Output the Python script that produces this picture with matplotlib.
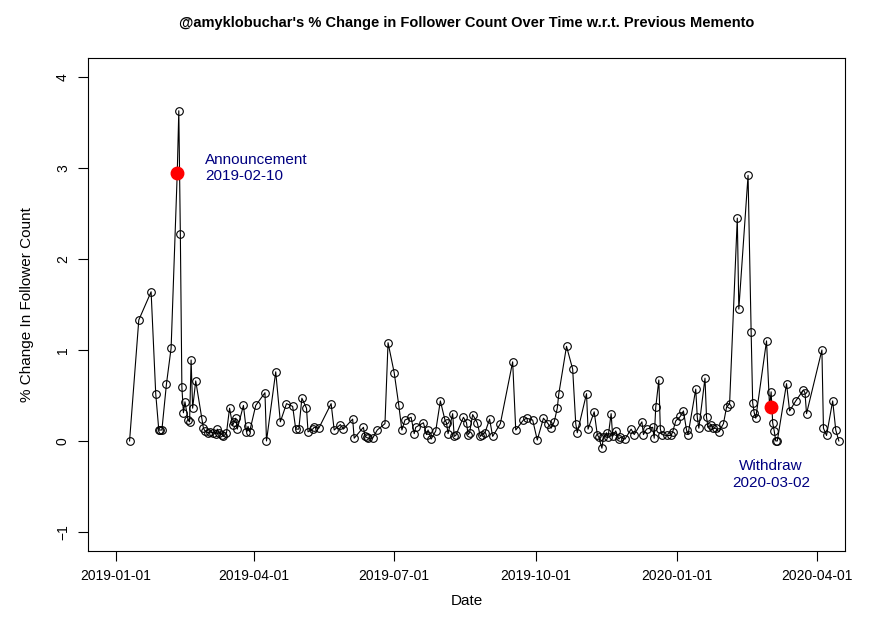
import matplotlib
matplotlib.use('Agg')
import matplotlib.pyplot as plt
import matplotlib.dates as mdates
import numpy as np
from datetime import date, timedelta

START = date(2019, 1, 1)

# days since 2019-01-01
days = [9, 15, 23, 26, 28, 29, 30, 33, 36, 40, 41, 42, 43, 44, 45, 47, 48, 49, 50, 52,
        56, 57, 58, 60, 61, 63, 65, 66, 67, 69, 70, 72, 74, 76, 77, 78, 79, 83, 85, 86,
        87, 91, 97, 98, 104, 107, 111, 115, 117, 119, 121, 124, 125, 128, 129, 132, 140,
        142, 146, 148, 154, 155, 161, 162, 163, 164, 167, 170, 175, 177, 181, 184, 186,
        188, 192, 194, 195, 200, 202, 203, 205, 208, 211, 214, 215, 216, 219, 220, 221,
        226, 228, 229, 230, 232, 235, 237, 238, 240, 243, 245, 250, 258, 260, 265, 267,
        271, 274, 278, 281, 283, 285, 287, 288, 293, 297, 299, 300, 306, 307, 311, 313,
        314, 316, 317, 319, 320, 322, 323, 325, 327, 328, 331, 335, 337, 342, 343, 345,
        349, 350, 351, 353, 354, 355, 358, 361, 362, 364, 367, 369, 371, 372, 377, 378,
        379, 383, 384, 385, 387, 388, 390, 392, 395, 397, 399, 404, 405, 411, 413, 414,
        415, 416, 423, 425, 426, 427, 428, 429, 430, 436, 438, 442, 447, 448, 449, 459,
        460, 462, 466, 468, 470]
pct = [0.00, 1.33, 1.64, 0.52, 0.12, 0.12, 0.12, 0.63, 1.02, 2.95, 3.63, 2.28, 0.59, 0.31,
       0.43, 0.23, 0.21, 0.89, 0.36, 0.66, 0.24, 0.14, 0.11, 0.09, 0.10, 0.09, 0.08, 0.13,
       0.09, 0.07, 0.05, 0.09, 0.36, 0.17, 0.21, 0.25, 0.13, 0.39, 0.10, 0.16, 0.10, 0.39,
       0.53, 0.00, 0.76, 0.21, 0.41, 0.38, 0.13, 0.13, 0.47, 0.36, 0.10, 0.13, 0.15, 0.14,
       0.41, 0.12, 0.18, 0.13, 0.24, 0.03, 0.15, 0.05, 0.04, 0.03, 0.03, 0.12, 0.19, 1.08,
       0.75, 0.39, 0.12, 0.23, 0.26, 0.08, 0.15, 0.20, 0.07, 0.12, 0.02, 0.11, 0.44, 0.23,
       0.20, 0.08, 0.30, 0.05, 0.06, 0.26, 0.20, 0.07, 0.09, 0.29, 0.20, 0.05, 0.07, 0.09,
       0.24, 0.05, 0.19, 0.87, 0.12, 0.23, 0.25, 0.23, 0.01, 0.25, 0.19, 0.14, 0.21, 0.36,
       0.52, 1.04, 0.79, 0.19, 0.09, 0.52, 0.13, 0.32, 0.07, 0.04, -0.08, 0.04, 0.09, 0.04,
       0.30, 0.05, 0.11, 0.02, 0.04, 0.02, 0.13, 0.07, 0.21, 0.07, 0.13, 0.15, 0.03, 0.37,
       0.67, 0.13, 0.07, 0.06, 0.06, 0.10, 0.22, 0.27, 0.33, 0.12, 0.07, 0.57, 0.26, 0.14,
       0.69, 0.26, 0.15, 0.18, 0.14, 0.14, 0.10, 0.19, 0.37, 0.41, 2.45, 1.45, 2.92, 1.20,
       0.42, 0.31, 0.25, 1.10, 0.37, 0.54, 0.20, 0.11, 0.00, 0.00, 0.63, 0.33, 0.44, 0.56,
       0.53, 0.30, 1.00, 0.14, 0.06, 0.44, 0.12, 0.00]

events = ['2019-02-10', '2020-03-02']
event_pct = [2.95, 0.37]
event_names = ['Announcement', 'Withdraw']

x = [START + timedelta(days=d) for d in days]
ev_x = [date.fromisoformat(e) for e in events]

plt.rcParams.update({'font.family': 'Liberation Sans', 'font.size': 10})
fig = plt.figure(figsize=(8.75, 6.25), dpi=100)
ax = fig.add_axes([0.1006, 0.1184, 0.8651, 0.7888])

ax.plot(x, pct, color='black', lw=0.8, marker='o', ms=5.5, mfc='none', mec='black', mew=0.8)
ax.plot(ev_x, event_pct, 'o', color='red', ms=9, zorder=5)

ax.text(mdates.date2num(date(2019, 2, 28)), 3.0, f'{event_names[0]}\n{events[0]}',
        color='#000080', fontsize=11, va='center', ha='left', multialignment='left',
        linespacing=1.25)
ax.text(mdates.date2num(ev_x[1]), -0.37, f'{event_names[1]}\n{events[1]}',
        color='#000080', fontsize=11, va='center', ha='center', linespacing=1.25)

ax.set_xlim(START + timedelta(days=-18), START + timedelta(days=474))
ax.set_ylim(-1.21, 4.21)
ticks = [date(2019, 1, 1), date(2019, 4, 1), date(2019, 7, 1), date(2019, 10, 1),
         date(2020, 1, 1), date(2020, 4, 1)]
ax.set_xticks(ticks)
ax.set_xticklabels([t.isoformat() for t in ticks])
ax.set_yticks([-1, 0, 1, 2, 3, 4])
ax.tick_params(length=7, width=0.8, pad=6)
plt.setp(ax.get_yticklabels(), rotation=90, va='center')
for s in ax.spines.values():
    s.set_linewidth(0.8)

ax.set_xlabel('Date', fontsize=11, labelpad=8)
ax.set_ylabel('% Change In Follower Count', fontsize=11, labelpad=16)
ax.set_title("@amyklobuchar's % Change in Follower Count Over Time w.r.t. Previous Memento",
             fontweight='bold', fontsize=10.5, pad=22)

fig.savefig('out.png')
